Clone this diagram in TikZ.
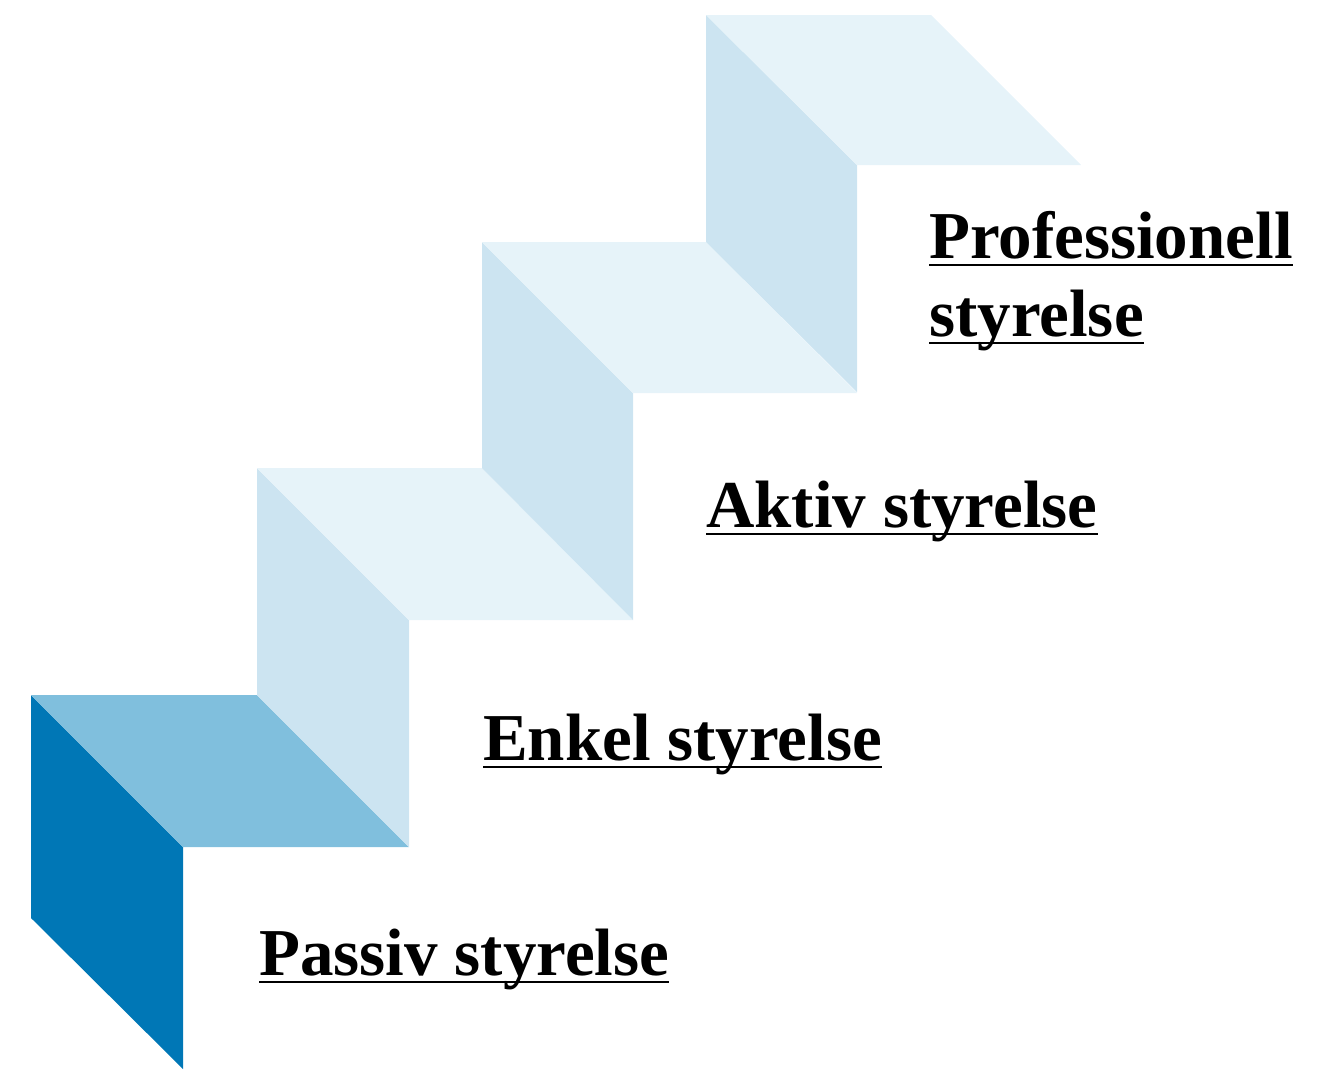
\documentclass[tikz,border=0pt]{standalone}
\usepackage{fontspec}
\setmainfont{Liberation Serif}
\definecolor{dark}{RGB}{0,119,182}
\definecolor{mid}{RGB}{128,191,221}
\definecolor{riser}{RGB}{204,228,241}
\definecolor{tread}{RGB}{230,243,249}
\tikzset{
  lbl/.style={anchor=base west, inner sep=0pt, font=\fontsize{67}{78}\selectfont\bfseries},
  uline/.style={line width=1.5pt, black}
}
\begin{document}
\begin{tikzpicture}[x=1pt,y=-1pt]
\useasboundingbox (0,0) rectangle (1318,1069);
% step 1
\fill[dark] (31,695) -- (183,847) -- (183,1069) -- (31,918) -- cycle;
\fill[mid] (31,695) -- (257,695) -- (409,847) -- (183,847) -- cycle;
% step 2
\fill[riser] (257,468) -- (409,620) -- (409,847) -- (257,695) -- cycle;
\fill[tread] (257,468) -- (482,468) -- (633,620) -- (409,620) -- cycle;
% step 3
\fill[riser] (482,242) -- (633,393) -- (633,620) -- (482,468) -- cycle;
\fill[tread] (482,242) -- (706,242) -- (857,393) -- (633,393) -- cycle;
% step 4
\fill[riser] (706,15) -- (857,165) -- (857,392) -- (706,242) -- cycle;
\fill[tread] (706,15) -- (931,15) -- (1081,165) -- (857,165) -- cycle;
% labels
\node[lbl] (p1) at (929,258) {Professionell};
\node[lbl] (p2) at (929,336) {styrelse};
\node[lbl] (a) at (706,527) {Aktiv styrelse};
\node[lbl] (e) at (483,760) {Enkel styrelse};
\node[lbl] (s) at (259,975) {Passiv styrelse};
\foreach \n in {p1,p2,a,e,s}{
  \draw[uline] ([yshift=-7pt]\n.base west) -- ([yshift=-7pt]\n.base east);
}
\end{tikzpicture}
\end{document}
